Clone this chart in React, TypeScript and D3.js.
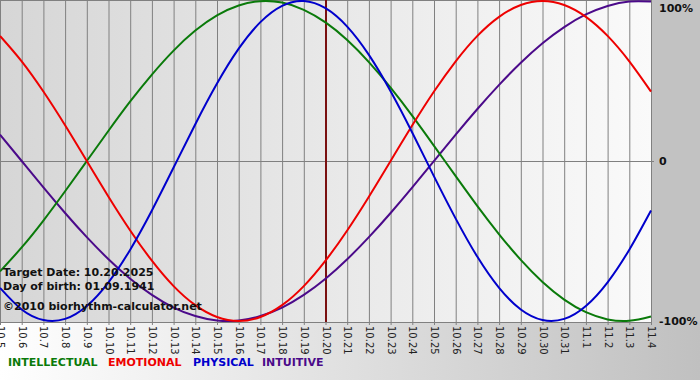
import React from "react";
import * as d3 from "d3";

const dates = [
  "10.5", "10.6", "10.7", "10.8", "10.9", "10.10", "10.11", "10.12", "10.13", "10.14",
  "10.15", "10.16", "10.17", "10.18", "10.19", "10.20", "10.21", "10.22", "10.23", "10.24",
  "10.25", "10.26", "10.27", "10.28", "10.29", "10.30", "10.31", "11.1", "11.2", "11.3", "11.4",
];

const intellectual = [-69, -54, -37.2, -18.9, 0, 18.9, 37.2, 54, 69, 81.5, 91, 97.2, 99.9, 99, 94.5, 86.6, 75.6, 61.8, 45.8, 28.2, 9.5, -9.5, -28.2, -45.8, -61.8, -75.6, -86.6, -94.5, -99, -99.9, -97.2];
const emotional = [78.2, 62.3, 43.4, 22.3, 0, -22.3, -43.4, -62.3, -78.2, -90.1, -97.5, -100, -97.5, -90.1, -78.2, -62.3, -43.4, -22.3, 0, 22.3, 43.4, 62.3, 78.2, 90.1, 97.5, 100, 97.5, 90.1, 78.2, 62.3, 43.4];
const physical = [-79.3, -92.8, -99.4, -98.7, -90.6, -75.8, -55.4, -30.9, -4.1, 23, 48.4, 70.2, 86.8, 97, 100, 95.5, 84, 66.3, 43.6, 17.7, -9.6, -36, -59.9, -79.3, -92.8, -99.4, -98.7, -90.6, -75.8, -55.4, -30.9];
const intuitive = [16.5, 0, -16.5, -32.5, -47.6, -61.4, -73.6, -83.7, -91.6, -96.9, -99.7, -99.7, -96.9, -91.6, -83.7, -73.6, -61.4, -47.6, -32.5, -16.5, 0, 16.5, 32.5, 47.6, 61.4, 73.6, 83.7, 91.6, 96.9, 99.7, 99.7];

const yTicks = [100, 0, -100];
const yTickLabels = ["100%", "0", "-100%"];
const targetIndex = 15;
const infoLines = ["Target Date: 10.20.2025", "Day of birth: 01.09.1941", "\u00a92010 biorhythm-calculator.net"];

const seriesNames = ["INTELLECTUAL", "EMOTIONAL", "PHYSICAL", "INTUITIVE"];
const seriesColors = ["#0a7a0a", "#ee0000", "#0000cc", "#4b0a8a"];
const seriesData = [intellectual, emotional, physical, intuitive];
const legendX = [8, 108, 193, 262];

export default function App() {
  const W = 700, H = 380;
  const x = d3.scaleLinear().domain([0, dates.length - 1]).range([0, 651]);
  const y = d3.scaleLinear().domain([-100, 100]).range([321, 1]);
  const line = d3
    .line<number>()
    .x((_, i) => x(i))
    .y((v) => y(v))
    .curve(d3.curveNatural);

  const font = "'DejaVu Sans', Verdana, sans-serif";
  const order = [3, 0, 1, 2];
  const yLabelBaseline = (t: number) => Math.min(Math.max(y(t) + 4, 12), 326);

  return (
    <svg width={W} height={H} style={{ position: "fixed", left: 0, top: 0, display: "block" }}>
      <defs>
        <linearGradient id="bg" x1="0" x2="1" y1="0" y2="0">
          <stop offset="0" stopColor="#ffffff" />
          <stop offset="1" stopColor="#c0c0c0" />
        </linearGradient>
        <linearGradient id="plotbg" x1="0" x2="1" y1="0" y2="0">
          <stop offset="0" stopColor="#d6d6d6" />
          <stop offset="1" stopColor="#fafafa" />
        </linearGradient>
        <clipPath id="plotclip">
          <rect x={0} y={0} width={652} height={323} />
        </clipPath>
      </defs>
      <rect x={0} y={0} width={W} height={H} fill="url(#bg)" />
      <rect x={652} y={0} width={48} height={323} fill="#c2c2c2" />
      <rect x={0} y={0} width={652} height={322} fill="url(#plotbg)" />
      {dates.map((d, i) => (
        <line key={d} x1={x(i) + 0.5} x2={x(i) + 0.5} y1={0} y2={325} stroke="#808080" strokeWidth={1} />
      ))}
      <line x1={0} x2={652} y1={0.5} y2={0.5} stroke="#808080" />
      <line x1={0} x2={654} y1={Math.round(y(0)) + 0.5} y2={Math.round(y(0)) + 0.5} stroke="#808080" />
      <line x1={0} x2={652} y1={322.5} y2={322.5} stroke="#808080" />
      <line x1={x(targetIndex) + 0.5} x2={x(targetIndex) + 0.5} y1={0} y2={322} stroke="#7a1010" strokeWidth={2} />
      <g clipPath="url(#plotclip)">
        {order.map((k) => (
          <path key={seriesNames[k]} d={line(seriesData[k]) || ""} fill="none" stroke={seriesColors[k]} strokeWidth={2} strokeLinejoin="round" />
        ))}
      </g>
      {yTicks.map((t, i) => (
        <text key={t} x={659} y={yLabelBaseline(t)} fontFamily={font} fontWeight="bold" fontSize={11} fill="#111">
          {yTickLabels[i]}
        </text>
      ))}
      {dates.map((d, i) => (
        <text
          key={d}
          transform={`translate(${x(i) + 0.5},326) rotate(90)`}
          fontFamily={font}
          fontSize={10}
          fill="#222"
          textAnchor="start"
          dominantBaseline="central"
        >
          {d}
        </text>
      ))}
      {infoLines.map((t, i) => (
        <text key={t} x={3} y={[276, 290, 310][i]} fontFamily={font} fontWeight="bold" fontSize={11} fill="#111">
          {t}
        </text>
      ))}
      {seriesNames.map((n, i) => (
        <text key={n} x={legendX[i]} y={366} fontFamily={font} fontWeight="bold" fontSize={11} fill={seriesColors[i]}>
          {n}
        </text>
      ))}
    </svg>
  );
}
